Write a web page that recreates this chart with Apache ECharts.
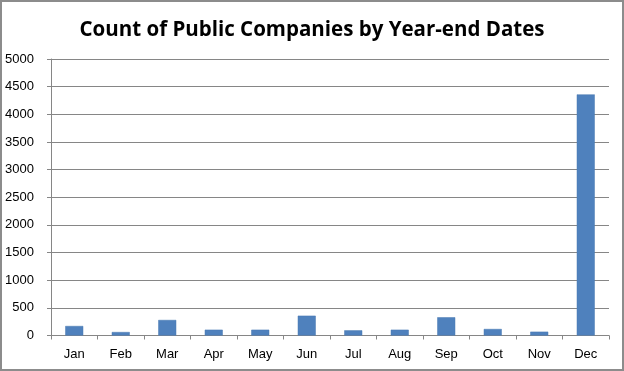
<!DOCTYPE html>
<html><head><meta charset="utf-8">
<script src="https://cdn.jsdelivr.net/npm/echarts@6/dist/echarts.min.js"></script>
<style>html,body{margin:0;padding:0;background:#fff}#c{width:624px;height:371px}</style>
</head><body><div id="c"></div>
<script>
const categories = ['Jan','Feb','Mar','Apr','May','Jun','Jul','Aug','Sep','Oct','Nov','Dec'];
const counts = [172, 63, 281, 105, 105, 358, 94, 105, 330, 118, 69, 4360];
const yTicks = [0, 500, 1000, 1500, 2000, 2500, 3000, 3500, 4000, 4500, 5000];

const chart = echarts.init(document.getElementById('c'), null, {renderer: 'canvas'});
chart.setOption({
  animation: false,
  backgroundColor: '#fff',
  title: {
    text: 'Count of Public Companies by Year-end Dates',
    left: 'center', top: 15,
    textStyle: {fontFamily: 'Open Sans', fontWeight: 'bold', fontSize: 20.5, color: '#000'}
  },
  graphic: [{
    type: 'rect', shape: {x: 1, y: 1, width: 622, height: 369},
    style: {fill: 'none', stroke: '#8c8c8c', lineWidth: 2}, silent: true
  }],
  grid: {left: 51, right: 15, top: 59, bottom: 35.5, containLabel: false},
  xAxis: {
    type: 'category', data: categories,
    axisLine: {lineStyle: {color: '#868686'}},
    axisTick: {show: true, alignWithLabel: false, length: 4, lineStyle: {color: '#868686'}},
    axisLabel: {color: '#000', fontFamily: 'Liberation Sans', fontSize: 13, margin: 12}
  },
  yAxis: {
    type: 'value', min: yTicks[0], max: yTicks[yTicks.length - 1], interval: 500,
    axisLine: {show: true, lineStyle: {color: '#868686'}},
    axisTick: {show: true, length: 4, lineStyle: {color: '#868686'}},
    splitLine: {lineStyle: {color: '#868686'}},
    axisLabel: {color: '#000', fontFamily: 'Liberation Sans', fontSize: 13, margin: 17,
      formatter: v => String(v)}
  },
  series: [{
    type: 'bar', data: counts, barWidth: 18,
    itemStyle: {color: '#4f81bd', borderColor: '#4a7ab3', borderWidth: 0.5}
  }]
});
</script></body></html>
